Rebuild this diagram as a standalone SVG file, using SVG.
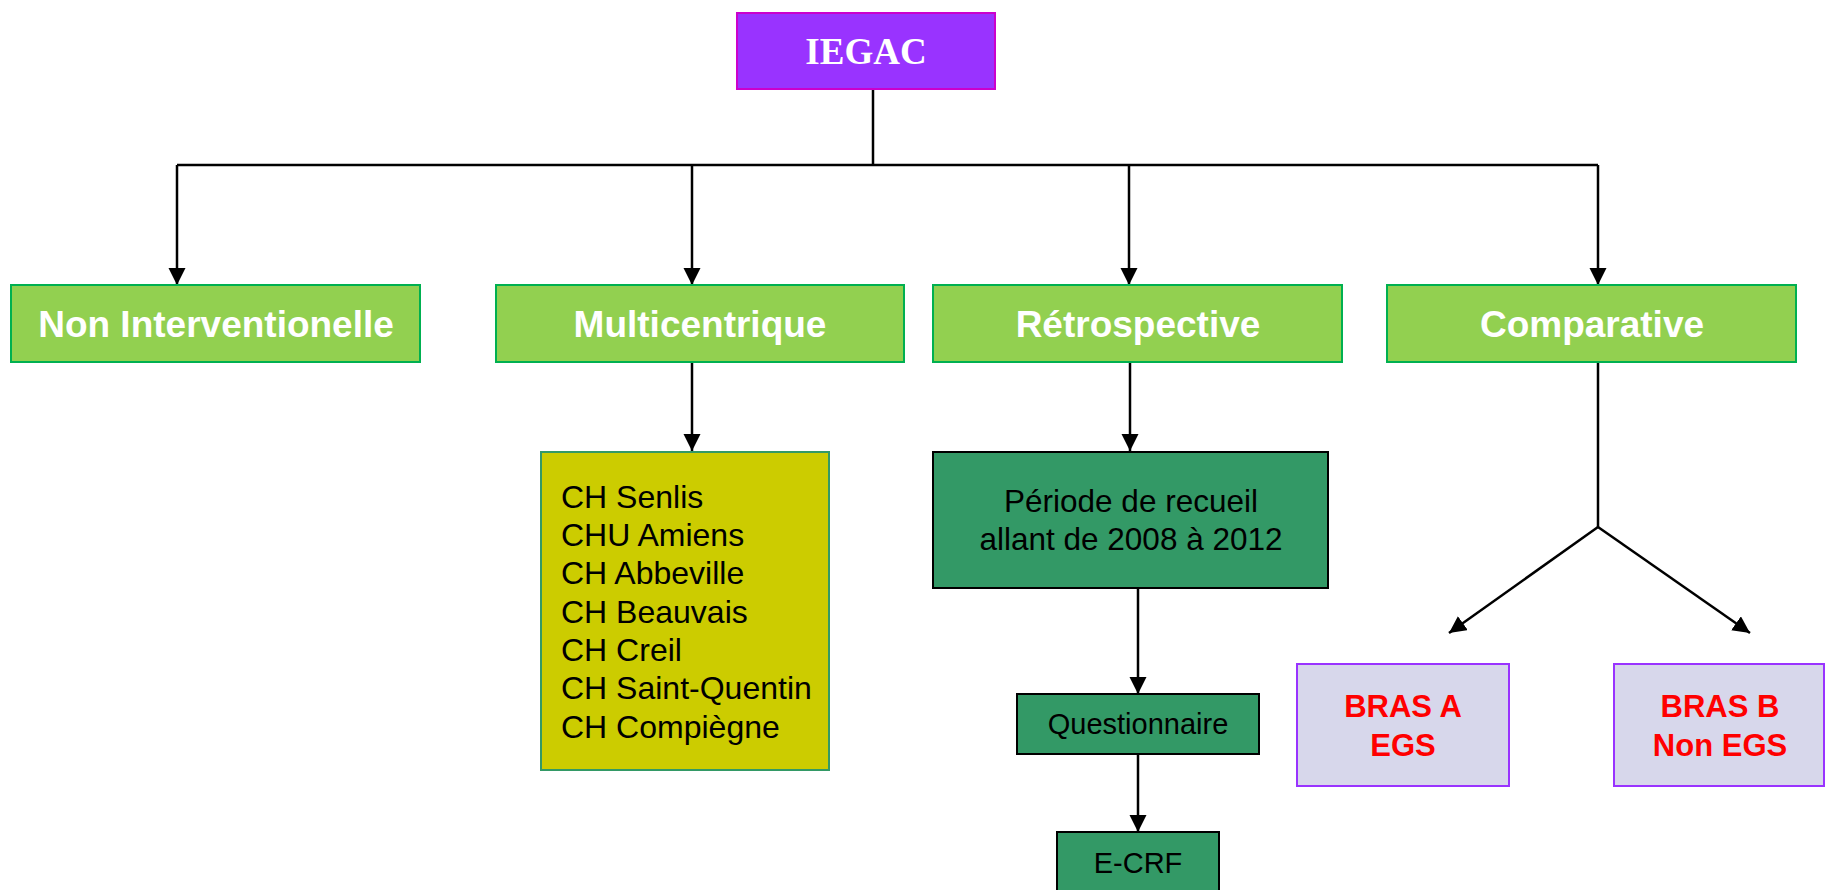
<svg xmlns="http://www.w3.org/2000/svg" width="1825" height="890" viewBox="0 0 1825 890">
<defs>
<marker id="ah" markerUnits="userSpaceOnUse" markerWidth="18" markerHeight="18" refX="17" refY="8.5" orient="auto">
<path d="M0,0 L17,8.5 L0,17 z" fill="#000"/>
</marker>
<style>
.conn{stroke:#000;stroke-width:2.5;fill:none}
.lvl2{fill:#92D050;stroke:#00B050;stroke-width:2}
.lvl2t{font-family:"Liberation Sans",Arial,sans-serif;font-weight:bold;font-size:37px;fill:#fff;text-anchor:middle}
.dk{fill:#339966;stroke:#000;stroke-width:2}
.dkt{font-family:"Liberation Sans",Arial,sans-serif;fill:#000;text-anchor:middle}
.bras{fill:#D7D7EB;stroke:#9933FF;stroke-width:2}
.brast{font-family:"Liberation Sans",Arial,sans-serif;font-weight:bold;font-size:31px;fill:#FF0000;text-anchor:middle}
</style>
</defs>
<rect width="1825" height="890" fill="#fff"/>
<g id="connectors">
<path class="conn" d="M873,90 V165"/>
<path class="conn" d="M177,165 H1598"/>
<path class="conn" d="M177,165 V285" marker-end="url(#ah)"/>
<path class="conn" d="M692,165 V285" marker-end="url(#ah)"/>
<path class="conn" d="M1129,165 V285" marker-end="url(#ah)"/>
<path class="conn" d="M1598,165 V285" marker-end="url(#ah)"/>
<path class="conn" d="M692,362 V451" marker-end="url(#ah)"/>
<path class="conn" d="M1130,362 V451" marker-end="url(#ah)"/>
<path class="conn" d="M1138,588 V694" marker-end="url(#ah)"/>
<path class="conn" d="M1138,754 V832" marker-end="url(#ah)"/>
<path class="conn" d="M1598,362 V527"/>
<path class="conn" d="M1598,527 L1449,633" marker-end="url(#ah)"/>
<path class="conn" d="M1598,527 L1750,633" marker-end="url(#ah)"/>
</g>
<g id="iegac">
<rect x="737" y="13" width="258" height="76" fill="#9933FF" stroke="#CC00CC" stroke-width="2"/>
<text x="866" y="64" font-family="'Liberation Serif','Times New Roman',serif" font-weight="bold" font-size="37" fill="#fff" text-anchor="middle">IEGAC</text>
</g>
<g id="non-interventionelle">
<rect class="lvl2" x="11" y="285" width="409" height="77"/>
<text class="lvl2t" x="216" y="337">Non Interventionelle</text>
</g>
<g id="multicentrique">
<rect class="lvl2" x="496" y="285" width="408" height="77"/>
<text class="lvl2t" x="700" y="337">Multicentrique</text>
</g>
<g id="retrospective">
<rect class="lvl2" x="933" y="285" width="409" height="77"/>
<text class="lvl2t" x="1138" y="337">Rétrospective</text>
</g>
<g id="comparative">
<rect class="lvl2" x="1387" y="285" width="409" height="77"/>
<text class="lvl2t" x="1592" y="337">Comparative</text>
</g>
<g id="centres">
<rect x="541" y="452" width="288" height="318" fill="#CCCC00" stroke="#339966" stroke-width="2"/>
<text font-family="'Liberation Sans',Arial,sans-serif" font-size="32" fill="#000">
<tspan x="561" y="508">CH Senlis</tspan>
<tspan x="561" y="546">CHU Amiens</tspan>
<tspan x="561" y="584">CH Abbeville</tspan>
<tspan x="561" y="623">CH Beauvais</tspan>
<tspan x="561" y="661">CH Creil</tspan>
<tspan x="561" y="699">CH Saint-Quentin</tspan>
<tspan x="561" y="738">CH Compiègne</tspan>
</text>
</g>
<g id="periode">
<rect class="dk" x="933" y="452" width="395" height="136"/>
<text class="dkt" font-size="31.5"><tspan x="1131" y="512">Période de recueil</tspan><tspan x="1131" y="550">allant de 2008 à 2012</tspan></text>
</g>
<g id="questionnaire">
<rect class="dk" x="1017" y="694" width="242" height="60" stroke-width="1.5"/>
<text class="dkt" font-size="29" x="1138" y="734">Questionnaire</text>
</g>
<g id="ecrf">
<rect class="dk" x="1057" y="832" width="162" height="70" stroke-width="1.5"/>
<text class="dkt" font-size="29" x="1138" y="873">E-CRF</text>
</g>
<g id="bras-a">
<rect class="bras" x="1297" y="664" width="212" height="122"/>
<text class="brast"><tspan x="1403" y="717">BRAS A</tspan><tspan x="1403" y="756">EGS</tspan></text>
</g>
<g id="bras-b">
<rect class="bras" x="1614" y="664" width="210" height="122"/>
<text class="brast"><tspan x="1720" y="717">BRAS B</tspan><tspan x="1720" y="756">Non EGS</tspan></text>
</g>
</svg>
